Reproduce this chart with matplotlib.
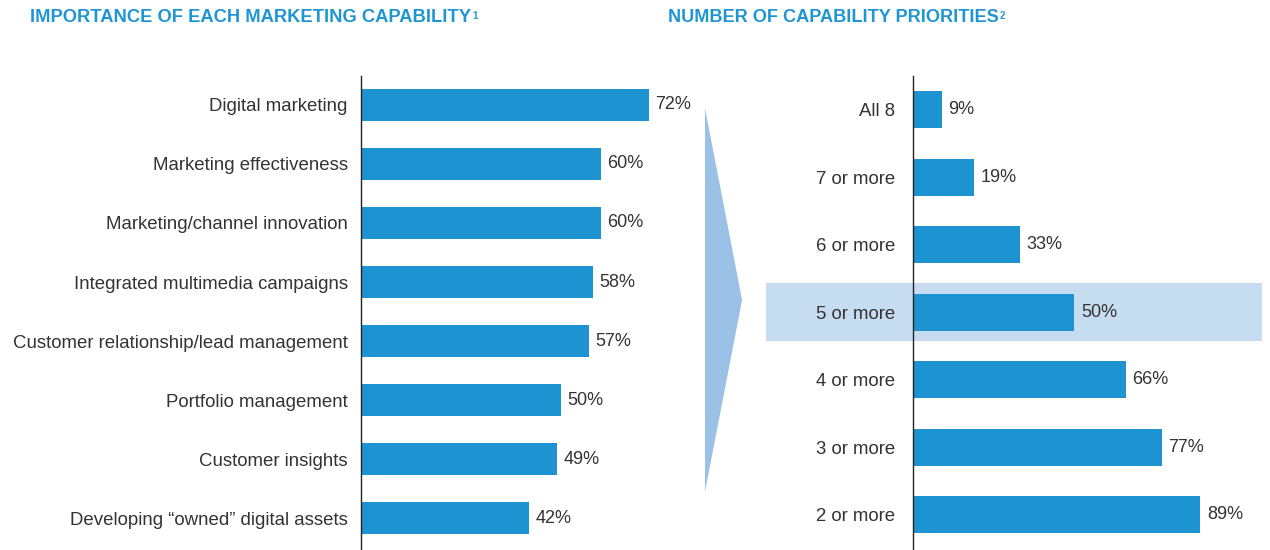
import matplotlib.pyplot as plt
from matplotlib.patches import Polygon, Rectangle
from matplotlib.transforms import blended_transform_factory

# Importance of each marketing capability (% of respondents)
capabilities = [
    "Digital marketing",
    "Marketing effectiveness",
    "Marketing/channel innovation",
    "Integrated multimedia campaigns",
    "Customer relationship/lead management",
    "Portfolio management",
    "Customer insights",
    "Developing \u201cowned\u201d digital assets",
]
importance = [72, 60, 60, 58, 57, 50, 49, 42]

# Number of capability priorities (% of respondents)
priority_counts = ["All 8", "7 or more", "6 or more", "5 or more",
                   "4 or more", "3 or more", "2 or more"]
priority_share = [9, 19, 33, 50, 66, 77, 89]
highlight = "5 or more"

bar_color = "#1e93d2"
title_color = "#1f96d4"
text_color = "#333333"

plt.rcParams["font.family"] = ["Liberation Sans", "DejaVu Sans"]

fig = plt.figure(figsize=(12.7, 5.5), dpi=100)
fig.patch.set_facecolor("white")


def style_axes(ax, pad):
    for side in ["top", "right", "bottom"]:
        ax.spines[side].set_visible(False)
    ax.spines["left"].set_color("#222222")
    ax.spines["left"].set_linewidth(1.0)
    ax.spines["left"].set_zorder(3)
    ax.set_xticks([])
    ax.tick_params(axis="y", length=0, pad=pad, labelsize=13.4, labelcolor=text_color)
    ax.set_facecolor("none")


# left panel
ax1 = fig.add_axes([0.2843, 0.0, 0.252, 0.8618])
y1 = list(range(len(capabilities)))
ax1.barh(y1, importance, height=0.54, color=bar_color, zorder=2)
ax1.set_yticks(y1)
ax1.set_yticklabels(capabilities)
ax1.set_xlim(0, 80)
ax1.set_ylim(len(capabilities) - 1 + 0.54, -0.49)
style_axes(ax1, 9.5)
for y, v in zip(y1, importance):
    ax1.text(v + 1.6, y, f"{v}%", va="center", ha="left", fontsize=13, color=text_color)

# right panel
ax2 = fig.add_axes([0.7189, 0.0, 0.2543, 0.8618])
y2 = list(range(len(priority_counts)))
ax2.barh(y2, priority_share, height=0.55, color=bar_color, zorder=2)
ax2.set_yticks(y2)
ax2.set_yticklabels(priority_counts)
ax2.set_xlim(0, 100)
ax2.set_ylim(len(priority_counts) - 1 + 0.52, -0.5)
style_axes(ax2, 13)
for y, v in zip(y2, priority_share):
    ax2.text(v + 2.0, y, f"{v}%", va="center", ha="left", fontsize=13, color=text_color)

# highlight band behind the selected row
hi = priority_counts.index(highlight)
band_tf = blended_transform_factory(fig.transFigure, ax2.transData)
ax2.add_patch(Rectangle((0.6031, hi - 0.43), 0.3906, 0.86, transform=band_tf,
                        facecolor="#c6dcf0", edgecolor="none", clip_on=False, zorder=0.5))

# arrow linking the two panels
fig.patches.append(Polygon([[0.5551, 0.8036], [0.5843, 0.4545], [0.5551, 0.1055]],
                           closed=True, transform=fig.transFigure,
                           facecolor="#9bc1e6", edgecolor="none"))

# panel titles with small raised footnote marks
t1 = fig.text(0.0236, 0.968, "IMPORTANCE OF EACH MARKETING CAPABILITY", fontsize=13.2,
              fontweight="bold", color=title_color, va="center", ha="left")
t2 = fig.text(0.526, 0.968, "NUMBER OF CAPABILITY PRIORITIES", fontsize=13.1,
              fontweight="bold", color=title_color, va="center", ha="left")
fig.canvas.draw()
inv = fig.transFigure.inverted()
for t, mark in [(t1, "1"), (t2, "2")]:
    bb = t.get_window_extent()
    x0, y0 = inv.transform((bb.x1 + 1, bb.y1 - 2))
    fig.text(x0, y0, mark, fontsize=7, fontweight="bold", color=title_color,
             va="top", ha="left")

fig.savefig("out.png", dpi=100, facecolor="white")
